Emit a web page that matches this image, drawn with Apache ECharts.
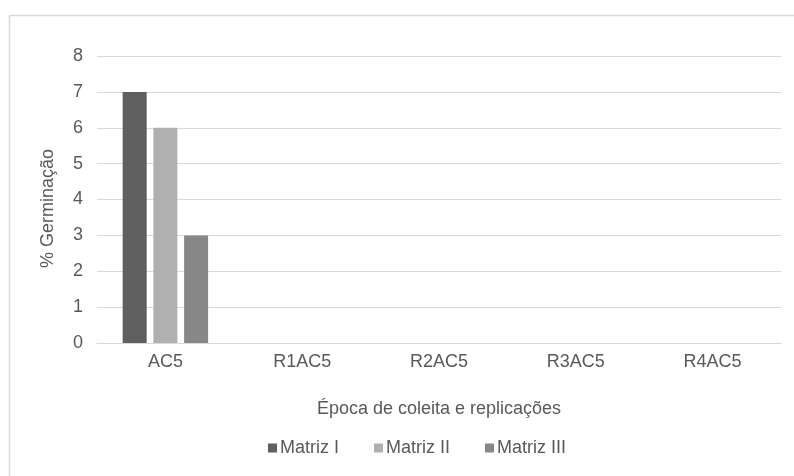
<!DOCTYPE html>
<html>
<head>
<meta charset="utf-8">
<script src="https://cdn.jsdelivr.net/npm/echarts@6/dist/echarts.min.js"></script>
<style>html,body{margin:0;padding:0;background:#fff}#c{width:794px;height:476px}</style>
</head>
<body>
<div id="c"></div>
<script>
var categories = ['AC5', 'R1AC5', 'R2AC5', 'R3AC5', 'R4AC5'];
var matrizI = [7, 0, 0, 0, 0];
var matrizII = [6, 0, 0, 0, 0];
var matrizIII = [3, 0, 0, 0, 0];
var seriesNames = ['Matriz I', 'Matriz II', 'Matriz III'];
var yTicks = [0, 1, 2, 3, 4, 5, 6, 7, 8];

var chart = echarts.init(document.getElementById('c'), null, {renderer: 'canvas'});
var font = 'Liberation Sans, Arial, sans-serif';
var txt = '#595959';
var fs = 18;
chart.setOption({
  animation: false,
  textStyle: {fontFamily: font},
  graphic: [{
    type: 'rect', shape: {x: 9.5, y: 15.5, width: 900, height: 600},
    style: {fill: 'none', stroke: '#d9d9d9', lineWidth: 1.5}, silent: true, z: -1
  }],
  grid: {left: 97, right: 13, top: 56, bottom: 133},
  legend: {
    data: seriesNames, left: 263, top: 434, itemWidth: 9, itemHeight: 9, itemGap: 35,
    icon: 'rect',
    textStyle: {color: txt, fontSize: fs, fontFamily: font, padding: [0, 0, 0, -2]}
  },
  xAxis: {
    type: 'category', data: categories,
    name: 'Época de coleita e replicações', nameLocation: 'middle', nameGap: 57,
    nameTextStyle: {color: txt, fontSize: fs, fontFamily: font},
    axisLine: {lineStyle: {color: '#d9d9d9', width: 1}},
    axisTick: {show: false},
    axisLabel: {color: txt, fontSize: fs, margin: 10, fontFamily: font}
  },
  yAxis: {
    type: 'value', min: yTicks[0], max: yTicks[yTicks.length - 1], interval: 1,
    name: '% Germinação', nameLocation: 'middle', nameGap: 40,
    nameTextStyle: {color: txt, fontSize: fs, fontFamily: font, padding: [0, 18, 0, 0]},
    axisLine: {show: false}, axisTick: {show: false},
    axisLabel: {color: txt, fontSize: fs, margin: 14, fontFamily: font},
    splitLine: {lineStyle: {color: '#d9d9d9', width: 1}}
  },
  series: [
    {name: seriesNames[0], type: 'bar', data: matrizI, barWidth: 24, barGap: '28%', itemStyle: {color: '#5f5f5f'}},
    {name: seriesNames[1], type: 'bar', data: matrizII, barWidth: 24, barGap: '28%', itemStyle: {color: '#b0b0b0'}},
    {name: seriesNames[2], type: 'bar', data: matrizIII, barWidth: 24, barGap: '28%', itemStyle: {color: '#878787'}}
  ]
});
</script>
</body>
</html>
